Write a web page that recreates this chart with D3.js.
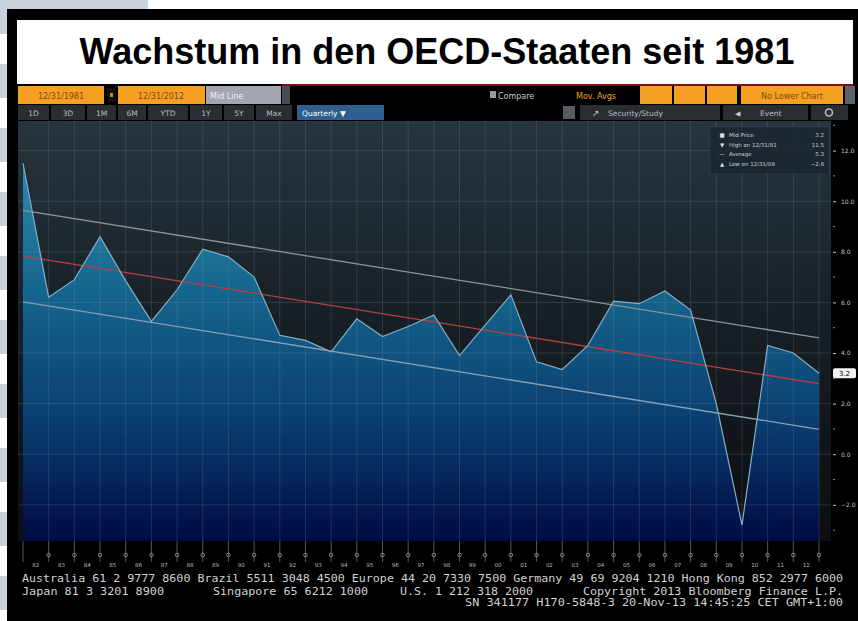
<!DOCTYPE html>
<html>
<head>
<meta charset="utf-8">
<script src="https://cdn.jsdelivr.net/npm/d3@7"></script>
<style>
  html, body { margin: 0; padding: 0; background: #fff; }
  svg { display: block; }
</style>
</head>
<body>
<script>
// annual OECD growth (12/31 of each year)
var years = [1981, 1982, 1983, 1984, 1985, 1986, 1987, 1988, 1989, 1990, 1991,
  1992, 1993, 1994, 1995, 1996, 1997, 1998, 1999, 2000, 2001, 2002, 2003,
  2004, 2005, 2006, 2007, 2008, 2009, 2010, 2011, 2012];
var growth = [11.5, 6.2, 6.9, 8.6, 6.85, 5.25, 6.5, 8.1, 7.8, 7.0, 4.7,
  4.5, 4.05, 5.35, 4.65, 5.05, 5.5, 3.9, 5.1, 6.3, 3.65, 3.35, 4.3,
  6.05, 5.95, 6.45, 5.7, 2.0, -2.8, 4.3, 4.0, 3.2];
var yTicks = [-2, 0, 2, 4, 6, 8, 10, 12];
var yMinorTicks = [-3, -1, 1, 3, 5, 7, 9, 11, 13];
var xLabels = ["82", "83", "84", "85", "86", "87", "88", "89", "90", "91", "92",
  "93", "94", "95", "96", "97", "98", "99", "00", "01", "02", "03", "04", "05",
  "06", "07", "08", "09", "10", "11", "12"];
var legendNames = ["Mid Price", "High on 12/31/81", "Average", "Low on 12/31/09"];
var periodButtons = ["1D", "3D", "1M", "6M", "YTD", "1Y", "5Y", "Max"];
var footerLines = [
  "Australia 61 2 9777 8600 Brazil 5511 3048 4500 Europe 44 20 7330 7500 Germany 49 69 9204 1210 Hong Kong 852 2977 6000",
  "Japan 81 3 3201 8900",
  "Singapore 65 6212 1000",
  "U.S. 1 212 318 2000",
  "Copyright 2013 Bloomberg Finance L.P.",
  "SN 341177 H170-5848-3 20-Nov-13 14:45:25 CET  GMT+1:00"
];
var titleText = "Wachstum in den OECD-Staaten seit 1981";

var W = 858, H = 621;
var plot = { left: 18, right: 831, top: 121, bottom: 541 };
var mono = "'DejaVu Sans Mono', monospace";
var sans = "'DejaVu Sans', sans-serif";

var svg = d3.select("body").append("svg").attr("width", W).attr("height", H);
var defs = svg.append("defs");

var bgGrad = defs.append("linearGradient").attr("id", "bgGrad")
  .attr("gradientUnits", "userSpaceOnUse")
  .attr("x1", 0).attr("x2", 0).attr("y1", plot.top).attr("y2", plot.bottom);
bgGrad.append("stop").attr("offset", 0).attr("stop-color", "#27353e");
bgGrad.append("stop").attr("offset", 0.45).attr("stop-color", "#182027");
bgGrad.append("stop").attr("offset", 1).attr("stop-color", "#0b0d11");

var areaGrad = defs.append("linearGradient").attr("id", "areaGrad")
  .attr("gradientUnits", "userSpaceOnUse")
  .attr("x1", 0).attr("x2", 0).attr("y1", plot.top).attr("y2", plot.bottom);
areaGrad.append("stop").attr("offset", 0).attr("stop-color", "#3595b8");
areaGrad.append("stop").attr("offset", 0.4).attr("stop-color", "#15668e");
areaGrad.append("stop").attr("offset", 0.72).attr("stop-color", "#0a3d70");
areaGrad.append("stop").attr("offset", 1).attr("stop-color", "#000a42");

// page behind the screenshot
svg.append("rect").attr("width", W).attr("height", H).attr("fill", "#fff");
svg.append("rect").attr("width", 148).attr("height", 9).attr("fill", "#c9d2dd");
svg.selectAll("rect.stripe").data(d3.range(0, H, 64)).enter().append("rect")
  .attr("class", "stripe").attr("x", 0).attr("y", function(d) { return d; })
  .attr("width", 7).attr("height", 34).attr("fill", "#c9d2dd");

// black terminal frame
svg.append("rect").attr("x", 7).attr("y", 9).attr("width", W - 7).attr("height", H - 9).attr("fill", "#000");

// title box
svg.append("rect").attr("x", 17).attr("y", 20).attr("width", 836).attr("height", 64).attr("fill", "#fff");
svg.append("text").attr("x", 437).attr("y", 64).attr("text-anchor", "middle")
  .attr("font-family", "'Liberation Sans', Arial, Helvetica, sans-serif")
  .attr("font-weight", "bold").attr("font-size", 36).attr("fill", "#000")
  .text(titleText);
svg.append("rect").attr("x", 282).attr("y", 84).attr("width", 571).attr("height", 2).attr("fill", "#7d1212");

// toolbar row 1
var row1 = svg.append("g");
var orange = "#f5a023";
function box(g, x0, x1, y0, y1, fill) {
  return g.append("rect").attr("x", x0).attr("y", y0).attr("width", x1 - x0).attr("height", y1 - y0).attr("fill", fill);
}
function label(g, x, y, txt, fill, anchor, size) {
  return g.append("text").attr("x", x).attr("y", y).attr("text-anchor", anchor || "middle")
    .attr("font-family", sans).attr("font-size", size || 8).attr("fill", fill).text(txt);
}
box(row1, 18, 104, 86, 104, orange);
label(row1, 61, 98.5, "12/31/1981", "#7a4a08");
box(row1, 107, 116, 88, 102, "#111");
box(row1, 110, 113, 93, 97, "#c98318");
box(row1, 118, 205, 86, 104, orange);
label(row1, 161, 98.5, "12/31/2012", "#7a4a08");
box(row1, 206, 281, 86, 104, "#a1a6b1");
label(row1, 210, 98.5, "Mid Line", "#eef0f6", "start");
box(row1, 282, 290, 86, 104, "#474b52");
box(row1, 490, 496, 91, 98, "#9a9a9a");
label(row1, 498, 98.5, "Compare", "#c8c8c8", "start");
label(row1, 576, 98.5, "Mov. Avgs", "#f0a030", "start");
box(row1, 640, 672, 86, 104, orange);
box(row1, 674, 705, 86, 104, orange);
box(row1, 707, 737, 86, 104, orange);
box(row1, 741, 843, 86, 104, orange);
label(row1, 792, 98.5, "No Lower Chart", "#7a4a08");
box(row1, 845, 855, 86, 104, "#5d6169");

// toolbar row 2
var row2 = svg.append("g");
var btnEdges = [18, 51, 87, 118, 148, 190, 224, 256, 294];
periodButtons.forEach(function(b, i) {
  box(row2, btnEdges[i], btnEdges[i + 1] - 2, 105, 120, "#2a2e33");
  label(row2, (btnEdges[i] + btnEdges[i + 1] - 2) / 2, 115.5, b, "#b6bcc4", "middle", 7.5);
});
box(row2, 297, 384, 105, 120, "#2d5f8f");
label(row2, 302, 115.5, "Quarterly \u25BC", "#ffffff", "start", 7.5);
box(row2, 563, 575, 106, 119, "#575b62");
box(row2, 580, 720, 105, 120, "#2a2e33");
label(row2, 592, 116, "\u2197", "#c8c8c8", "start", 9);
label(row2, 608, 115.5, "Security/Study", "#b6bcc4", "start", 7.5);
box(row2, 723, 808, 105, 120, "#2a2e33");
label(row2, 735, 116, "\u25C0", "#c8c8c8", "start", 7);
label(row2, 760, 115.5, "Event", "#b6bcc4", "start", 7.5);
box(row2, 811, 848, 105, 120, "#2a2e33");
row2.append("circle").attr("cx", 829).attr("cy", 112.5).attr("r", 3.5)
  .attr("fill", "none").attr("stroke", "#b6bcc4").attr("stroke-width", 1.6);

// scales
var x = d3.scaleLinear().domain([1981, 2012]).range([23, 819]);
var y = d3.scaleLinear().domain([-3.43, 13.17]).range([plot.bottom, plot.top]);

var data = years.map(function(yr, i) { return { year: yr, value: growth[i] }; });

// plot background and grid
var g = svg.append("g");
g.append("rect").attr("x", plot.left).attr("y", plot.top)
  .attr("width", plot.right - plot.left).attr("height", plot.bottom - plot.top)
  .attr("fill", "url(#bgGrad)");

g.append("path").datum(data)
  .attr("fill", "url(#areaGrad)")
  .attr("d", d3.area().x(function(d) { return x(d.year); })
    .y0(plot.bottom).y1(function(d) { return y(d.value); }));

g.selectAll("line.hgrid").data(yTicks).enter().append("line")
  .attr("class", "hgrid")
  .attr("x1", plot.left).attr("x2", plot.right)
  .attr("y1", function(d) { return y(d); }).attr("y2", function(d) { return y(d); })
  .attr("stroke", "#8a99a6").attr("stroke-opacity", 0.22).attr("stroke-width", 1);
g.selectAll("line.vgrid").data(years.slice(1)).enter().append("line")
  .attr("class", "vgrid")
  .attr("x1", function(d) { return x(d); }).attr("x2", function(d) { return x(d); })
  .attr("y1", plot.top).attr("y2", plot.bottom)
  .attr("stroke", "#8a99a6").attr("stroke-opacity", 0.22).attr("stroke-width", 1);

// regression trend with +/- one standard deviation band
var idx = years.map(function(d, i) { return i; });
var mx = d3.mean(idx), my = d3.mean(growth);
var slope = d3.sum(idx, function(i) { return (i - mx) * (growth[i] - my); }) /
  d3.sum(idx, function(i) { return (i - mx) * (i - mx); });
var icpt = my - slope * mx;
var sd = d3.deviation(idx, function(i) { return growth[i] - (icpt + slope * i); });
var n = years.length - 1;
var trends = [
  { off: sd, color: "#8e9399" },
  { off: 0, color: "#b8403f" },
  { off: -sd, color: "#869fb3" }
];
g.selectAll("line.trend").data(trends).enter().append("line")
  .attr("class", "trend")
  .attr("x1", x(years[0])).attr("x2", x(years[n]))
  .attr("y1", function(d) { return y(icpt + d.off); })
  .attr("y2", function(d) { return y(icpt + slope * n + d.off); })
  .attr("stroke", function(d) { return d.color; }).attr("stroke-width", 1.3);

g.append("path").datum(data)
  .attr("fill", "none").attr("stroke", "#86aec0").attr("stroke-width", 1.2)
  .attr("d", d3.line().x(function(d) { return x(d.year); }).y(function(d) { return y(d.value); }));

// legend box
var leg = svg.append("g");
leg.append("rect").attr("x", 710).attr("y", 127).attr("width", 119).attr("height", 47)
  .attr("fill", "#1b2630").attr("fill-opacity", 0.92).attr("stroke", "#33414d").attr("stroke-width", 0.6);
var legValues = [growth[n], d3.max(growth), d3.mean(growth), d3.min(growth)];
var legIcons = ["\u25A0", "\u25BC", "\u2014", "\u25B2"];
legendNames.forEach(function(name, i) {
  var yy = 137 + i * 9.5;
  label(leg, 722, yy, legIcons[i], "#d8dde2", "middle", 5.5);
  label(leg, 729, yy, name, "#c9d0d6", "start", 5.5);
  label(leg, 824, yy, d3.format(".1f")(legValues[i]), "#c9d0d6", "end", 5.5);
});

// right value axis
var ax = svg.append("g").attr("transform", "translate(" + (plot.right + 2) + ",0)")
  .call(d3.axisRight(y).tickValues(yTicks).tickFormat(d3.format(".1f")).tickSize(3).tickPadding(5));
ax.select(".domain").remove();
ax.selectAll(".tick line").attr("stroke", "#c4c4c4");
ax.selectAll(".tick text").attr("fill", "#c4c4c4").attr("font-family", sans).attr("font-size", 6);
svg.selectAll("line.minor").data(yMinorTicks).enter().append("line")
  .attr("class", "minor")
  .attr("x1", plot.right + 2).attr("x2", plot.right + 4)
  .attr("y1", function(d) { return y(d); }).attr("y2", function(d) { return y(d); })
  .attr("stroke", "#888");

// last value marker
var last = svg.append("g").attr("transform", "translate(0," + y(growth[n]) + ")");
last.append("rect").attr("x", 833).attr("y", -5).attr("width", 23).attr("height", 10).attr("rx", 2).attr("fill", "#f2f2f2");
label(last, 844.5, 2.5, d3.format(".1f")(growth[n]), "#000", "middle", 7);

// time axis
var xa = svg.append("g");
xa.selectAll("line.xt").data(years).enter().append("line")
  .attr("class", "xt")
  .attr("x1", function(d) { return x(d); }).attr("x2", function(d) { return x(d); })
  .attr("y1", plot.bottom).attr("y2", 562)
  .attr("stroke", "#6d6d6d").attr("stroke-width", 0.8);
xa.selectAll("circle.xm").data(years.slice(1)).enter().append("circle")
  .attr("class", "xm")
  .attr("cx", function(d) { return x(d); }).attr("cy", 555).attr("r", 1.8)
  .attr("fill", "none").attr("stroke", "#9a9a9a").attr("stroke-width", 0.8);
xa.selectAll("text.xl").data(xLabels).enter().append("text")
  .attr("class", "xl")
  .attr("x", function(d, i) { return (x(years[i]) + x(years[i + 1])) / 2; })
  .attr("y", 567).attr("text-anchor", "middle")
  .attr("font-family", sans).attr("font-size", 5.5).attr("fill", "#bdbdbd")
  .text(function(d) { return d; });

// footer
var ft = svg.append("g").attr("font-family", mono).attr("fill", "#d2d2d2").attr("font-size", 10);
function ftext(x0, y0, txt, len) {
  return ft.append("text").attr("x", x0).attr("y", y0).attr("textLength", len)
    .attr("lengthAdjust", "spacingAndGlyphs").text(txt);
}
ftext(22, 582, footerLines[0], 821);
ftext(22, 595, footerLines[1], 142);
ftext(213, 595, footerLines[2], 155);
ftext(400, 595, footerLines[3], 133);
ftext(583, 595, footerLines[4], 260);
ftext(465, 606, footerLines[5], 378);
</script>
</body>
</html>
